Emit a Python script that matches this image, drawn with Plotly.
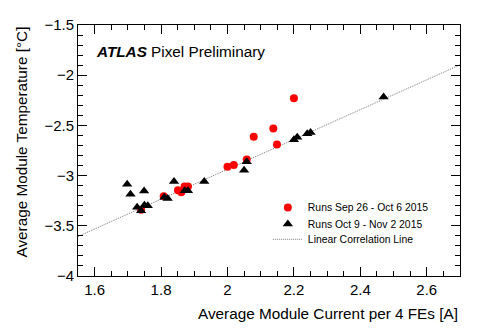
import plotly.graph_objects as go

# Runs Sep 26 - Oct 6 2015 (red circles)
sep_current = [2.20, 2.138, 2.079, 2.149, 2.058, 2.00, 2.019, 1.851, 1.861, 1.871, 1.881, 1.808, 1.740]
sep_temp = [-2.23, -2.532, -2.612, -2.69, -2.84, -2.913, -2.894, -3.147, -3.167, -3.109, -3.109, -3.205, -3.34]

# Runs Oct 9 - Nov 2 2015 (black triangles)
oct_current = [2.47, 2.24, 2.25, 2.20, 2.21, 2.058, 2.05, 1.93, 1.839, 1.871, 1.881,
               1.81, 1.82, 1.698, 1.708, 1.749, 1.728, 1.74, 1.75, 1.76]
oct_temp = [-2.218, -2.583, -2.57, -2.644, -2.618, -2.862, -2.946, -3.06, -3.06, -3.151, -3.151,
            -3.215, -3.228, -3.087, -3.186, -3.154, -3.314, -3.349, -3.295, -3.30]

# linear correlation line endpoints
fit_current = [1.55, 2.70]
fit_temp = [-3.606, -1.897]

FONT = "Liberation Sans, Arial, Helvetica, sans-serif"

fig = go.Figure()
fig.add_trace(go.Scatter(
    x=fit_current, y=fit_temp, mode="lines", name="Linear Correlation Line",
    line=dict(color="#7a7a7a", width=1, dash="1px,1px"), legend="legend3",
))
fig.add_trace(go.Scatter(
    x=sep_current, y=sep_temp, mode="markers", name="Runs Sep 26 - Oct 6 2015",
    marker=dict(color="#ff0000", size=8, symbol="circle"), legend="legend",
))
fig.add_trace(go.Scatter(
    x=oct_current, y=oct_temp, mode="markers", name="Runs Oct 9 - Nov 2 2015",
    marker=dict(color="black", size=9, symbol="triangle-up"), legend="legend2",
))

axis_common = dict(
    showline=True, linecolor="black", linewidth=1, mirror="ticks",
    ticks="inside", ticklen=9, tickcolor="black", tickwidth=1,
    showgrid=False, zeroline=False, ticklabeloverflow="allow",
    tickfont=dict(family=FONT, size=15, color="black"),
)

legend_common = dict(x=0.497, xanchor="left", yanchor="top",
                     bgcolor="rgba(0,0,0,0)", font=dict(family=FONT, size=10.4))

# the page body has an 8px margin, so margins are reduced to keep the frame in place
fig.update_layout(
    width=485, height=329,
    paper_bgcolor="white", plot_bgcolor="white",
    font=dict(family=FONT, color="black"),
    margin=dict(l=70, r=33, t=8, b=61),
    showlegend=True,
    xaxis=dict(range=[1.55, 2.7], dtick=0.2, tick0=1.6,
               minor=dict(ticks="inside", dtick=0.05, ticklen=5, tickcolor="black"),
               **axis_common),
    yaxis=dict(range=[-4, -1.5], dtick=0.5, tick0=-4,
               minor=dict(ticks="inside", dtick=0.1, ticklen=5, tickcolor="black"),
               **axis_common),
    legend=dict(y=0.331, **legend_common),
    legend2=dict(y=0.265, **legend_common),
    legend3=dict(y=0.204, **legend_common),
    annotations=[
        dict(text="<b><i>ATLAS</i></b> Pixel Preliminary", xref="paper", yref="paper",
             x=0.042, y=0.895, xanchor="left", yanchor="middle", showarrow=False,
             font=dict(family=FONT, size=15.3, color="black")),
        dict(text="Average Module Current per 4 FEs [A]", xref="paper", yref="paper",
             x=1, y=0, xanchor="right", yanchor="middle", yshift=-37, showarrow=False,
             font=dict(family=FONT, size=15.3, color="black")),
        dict(text="Average Module Temperature [°C]", xref="paper", yref="paper",
             x=0, y=1, xanchor="center", yanchor="top", xshift=-57, textangle=-90,
             showarrow=False, font=dict(family=FONT, size=15.3, color="black")),
    ],
)

fig.write_html("out.html")
